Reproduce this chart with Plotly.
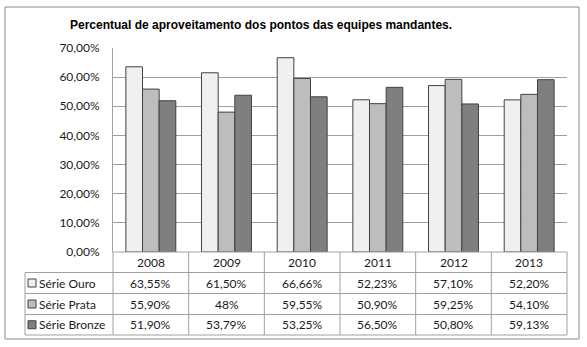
import plotly.graph_objects as go

# Data
years = ["2008", "2009", "2010", "2011", "2012", "2013"]
serie_ouro = [63.55, 61.50, 66.66, 52.23, 57.10, 52.20]
serie_prata = [55.90, 48, 59.55, 50.90, 59.25, 54.10]
serie_bronze = [51.90, 53.79, 53.25, 56.50, 50.80, 59.13]
series_names = ["Série Ouro", "Série Prata", "Série Bronze"]
series_colors = ["#f0f0f0", "#bdbdbd", "#7f7f7f"]
title_text = "Percentual de aproveitamento dos pontos das equipes mandantes."

W, H = 587, 347
L, R, T, B = 113, 20, 48, 95
PW, PH = W - L - R, H - T - B

def px_x(p):
    return (p - L) / PW

def px_y(p):
    return (H - B - p) / PH

def fmt(v):
    if float(v) == int(v):
        return f"{int(v)}%"
    return f"{v:.2f}".replace(".", ",") + "%"

all_series = [serie_ouro, serie_prata, serie_bronze]
fig = go.Figure()
for name, vals, col in zip(series_names, all_series, series_colors):
    fig.add_trace(go.Bar(
        x=years, y=[v / 100 for v in vals], name=name,
        marker=dict(color=col, line=dict(color="#404040", width=1)),
        showlegend=False,
    ))

grid_col = "#a0a0a0"
table_font = dict(family="Lato, sans-serif", size=12, color="#1a1a1a")
shapes = []
annotations = []

# chart outer frame
shapes.append(dict(type="rect", xref="paper", yref="paper",
                   x0=px_x(5), x1=px_x(579), y0=px_y(339), y1=px_y(7),
                   line=dict(color="#8c8c8c", width=1), fillcolor="rgba(0,0,0,0)", layer="below"))

# data table geometry
row_edges = [252, 272.5, 293.5, 314.5, 335]
col_x = [113 + i * PW / len(years) for i in range(len(years) + 1)]
legend_left = 25

# horizontal lines
shapes.append(dict(type="line", xref="paper", yref="paper", x0=px_x(113), x1=px_x(567),
                   y0=px_y(row_edges[0]), y1=px_y(row_edges[0]), line=dict(color=grid_col, width=1)))
for ry in row_edges[1:]:
    shapes.append(dict(type="line", xref="paper", yref="paper", x0=px_x(legend_left), x1=px_x(567),
                       y0=px_y(ry), y1=px_y(ry), line=dict(color=grid_col, width=1)))
# vertical lines
for cx in col_x:
    shapes.append(dict(type="line", xref="paper", yref="paper", x0=px_x(cx), x1=px_x(cx),
                       y0=px_y(row_edges[0]), y1=px_y(row_edges[-1]), line=dict(color=grid_col, width=1)))
shapes.append(dict(type="line", xref="paper", yref="paper", x0=px_x(legend_left), x1=px_x(legend_left),
                   y0=px_y(row_edges[1]), y1=px_y(row_edges[-1]), line=dict(color=grid_col, width=1)))

# header row
for i, yr in enumerate(years):
    cx = (col_x[i] + col_x[i + 1]) / 2
    cy = (row_edges[0] + row_edges[1]) / 2
    annotations.append(dict(x=px_x(cx), y=px_y(cy), xref="paper", yref="paper", text=yr,
                            showarrow=False, font=table_font, xanchor="center", yanchor="middle"))

# series rows
for r, (name, vals, col) in enumerate(zip(series_names, all_series, series_colors)):
    cy = (row_edges[r + 1] + row_edges[r + 2]) / 2
    shapes.append(dict(type="rect", xref="paper", yref="paper",
                       x0=px_x(28), x1=px_x(36), y0=px_y(cy + 4), y1=px_y(cy - 4),
                       fillcolor=col, line=dict(color="#404040", width=1)))
    annotations.append(dict(x=px_x(37), y=px_y(cy), xref="paper", yref="paper", text=name,
                            showarrow=False, font=table_font, xanchor="left", yanchor="middle"))
    for i, v in enumerate(vals):
        cx = (col_x[i] + col_x[i + 1]) / 2
        annotations.append(dict(x=px_x(cx), y=px_y(cy), xref="paper", yref="paper", text=fmt(v),
                                showarrow=False, font=table_font, xanchor="center", yanchor="middle"))

# title
annotations.append(dict(x=px_x(261), y=px_y(25), xref="paper", yref="paper", text=f"<b>{title_text}</b>",
                        showarrow=False, xanchor="center", yanchor="middle",
                        font=dict(family="Liberation Sans, Arial, sans-serif", size=12, color="#000000")))

fig.update_layout(
    width=W, height=H,
    margin=dict(l=L, r=R, t=T, b=B),
    paper_bgcolor="white", plot_bgcolor="white",
    barmode="group", bargap=0.34, bargroupgap=0,
    separators=",.",
    shapes=shapes, annotations=annotations,
    xaxis=dict(showticklabels=False, showgrid=False, zeroline=False, showline=False),
    yaxis=dict(range=[0, 0.7], dtick=0.1, tickformat=".2%", showgrid=True, gridcolor=grid_col,
               gridwidth=1, zeroline=False, showline=True, linecolor=grid_col, linewidth=1,
               ticks="", ticklabelstandoff=10, tickfont=table_font),
)

fig.write_html("out.html")
